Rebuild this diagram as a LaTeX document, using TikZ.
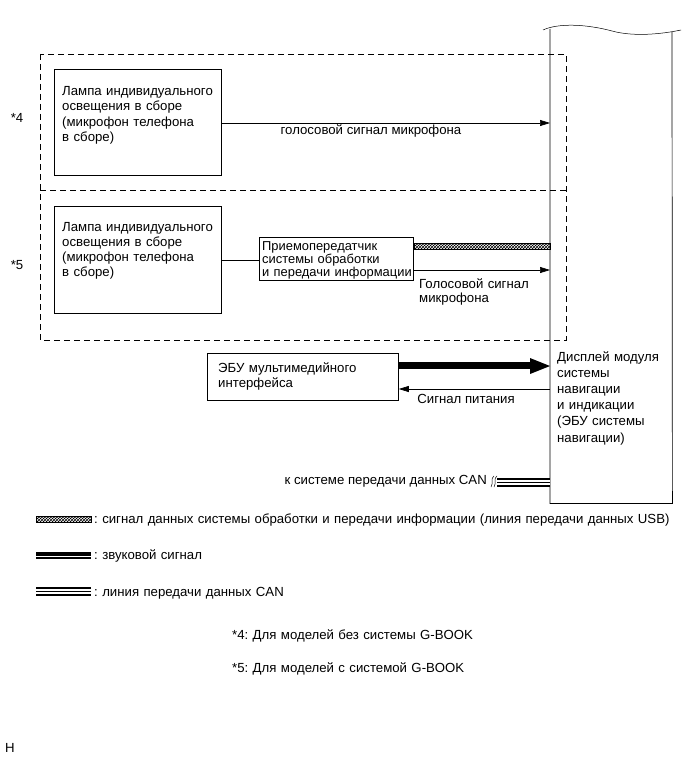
\documentclass[tikz,border=0pt]{standalone}
\usepackage{fontspec}
\setmainfont{Liberation Sans}
\usetikzlibrary{arrows.meta,patterns}
\frenchspacing
\begin{document}
\begin{tikzpicture}[x=1pt,y=-1pt,
  box/.style={draw,line width=0.8pt,rectangle,inner sep=0pt,anchor=north west},
  txt/.style={inner sep=0pt,anchor=base west,align=left,text width=#1,font=\fontsize{13.2}{15}\selectfont\frenchspacing},
  txt/.default=300pt,
  ctxt/.style={inner sep=0pt,anchor=base,font=\fontsize{13.2}{15}\selectfont\frenchspacing},
  ln/.style={line width=0.7pt},
  arr/.style={ln,-{Triangle[length=10pt,width=6pt]}},
  dashbox/.style={line width=0.7pt,dash pattern=on 6pt off 4pt},
  hatch/.style={pattern=crosshatch,draw,line width=0.5pt}
]
\useasboundingbox (0,0) rectangle (691,757);

% display module (tall block with wavy torn top)
\node[minimum width=122pt,minimum height=474pt,anchor=north west,inner sep=0pt] (disp) at (550,29) {};
\draw[ln] (disp.north west) -- (disp.south west) -- (disp.south east) -- (672,32);
\draw[line width=0.5pt] (543,30) .. controls (558,23) and (586,24) .. (612,31) .. controls (634,37) and (662,34) .. (681,30);
\node[txt=112pt,font=\fontsize{13.2}{16.2}\selectfont] (disptxt) at (557,361) {Дисплей модуля\\системы\\навигации\\и индикации\\(ЭБУ системы\\навигации)};

% dashed variants frame
\draw[dashbox] (40,54) rectangle (566,340);
\draw[dashbox] (40,190) -- (566,190);
\node[ctxt] (s4) at (17,122) {*4};
\node[ctxt] (s5) at (17,269) {*5};

% *4 variant
\node[box,minimum width=167pt,minimum height=106pt] (box1) at (54,69) {};
\node[txt=160pt] (t1) at (62,96) {Лампа индивидуального\\освещения в сборе\\(микрофон телефона\\в сборе)};
\coordinate (a1) at (disp.west |- 0,123);
\draw[arr] (box1.east |- a1) -- (a1);
\node[ctxt] (l1) at (371,135) {голосовой сигнал микрофона};

% *5 variant
\node[box,minimum width=167pt,minimum height=107pt] (box2) at (54,206) {};
\node[txt=160pt] (t2) at (62,231) {Лампа индивидуального\\освещения в сборе\\(микрофон телефона\\в сборе)};
\node[box,minimum width=154pt,minimum height=43pt] (trx) at (259,237) {};
\node[txt=150pt,font=\fontsize{12.9}{13}\selectfont] (ttrx) at (262,250) {Приемопередатчик\\системы обработки\\и передачи информации};
\draw[ln] (box2.east |- 0,260) -- (trx.west |- 0,260);
\coordinate (h1) at (trx.east |- 0,243);
\coordinate (h2) at (disp.west |- 0,249);
\draw[hatch] (h1) rectangle (h2);
\coordinate (a2) at (disp.west |- 0,270);
\draw[arr] (trx.east |- a2) -- (a2);
\node[txt=125pt,font=\fontsize{13.2}{14.5}\selectfont] (l2) at (419,288) {Голосовой сигнал\\микрофона};

% multimedia ECU
\node[box,minimum width=191pt,minimum height=47pt] (ebu) at (207,353) {};
\node[txt=175pt] (tebu) at (218,372) {ЭБУ мультимедийного\\интерфейса};
\coordinate (a3) at (disp.west |- 0,366);
\coordinate (a3b) at (530,366);
\draw[line width=8pt] (ebu.east |- a3) -- (a3b);
\draw[white,line width=1pt] (ebu.east |- 0,369.3) -- (531,369.3);
\fill (a3) -- (530,358) -- (530,374) -- cycle;
\coordinate (a4) at (disp.west |- 0,389);
\draw[arr] (a4) -- (ebu.east |- a4);
\node[ctxt] (l4) at (466,403) {Сигнал питания};

% CAN line
\coordinate (c0) at (497,482);
\coordinate (c1) at (disp.west |- c0);
\draw[line width=9pt] (c0) -- (c1);
\draw[white,line width=5pt] (c0) -- (c1);
\draw[line width=0.8pt] (c0) -- (c1);
\draw[line width=0.5pt] (494,476) .. controls (490,479) and (494,482) .. (491,487);
\draw[line width=0.5pt] (497,476) .. controls (493,479) and (497,482) .. (494,487);
\node[ctxt,anchor=base east] (lcan) at (487,484) {к системе передачи данных CAN};

% legend
\draw[hatch] (36,516) rectangle (91,522);
\node[txt=600pt] (g1) at (94,523) {: сигнал данных системы обработки и передачи информации (линия передачи данных USB)};
\coordinate (g2a) at (36,555);
\coordinate (g2b) at (91,555);
\draw[line width=7pt] (g2a) -- (g2b);
\draw[white,line width=1pt] (36,556.8) -- (91,556.8);
\node[txt] (g2) at (94,559) {: звуковой сигнал};
\coordinate (g3a) at (36,591);
\coordinate (g3b) at (91,591);
\draw[line width=9pt] (g3a) -- (g3b);
\draw[white,line width=5pt] (g3a) -- (g3b);
\draw[line width=0.8pt] (g3a) -- (g3b);
\node[txt] (g3) at (94,596) {: линия передачи данных CAN};

\node[txt] (n4) at (232,639) {*4: Для моделей без системы G-BOOK};
\node[txt] (n5) at (232,672) {*5: Для моделей с системой G-BOOK};
\node[txt=20pt] (hh) at (5,752) {H};
\end{tikzpicture}
\end{document}
